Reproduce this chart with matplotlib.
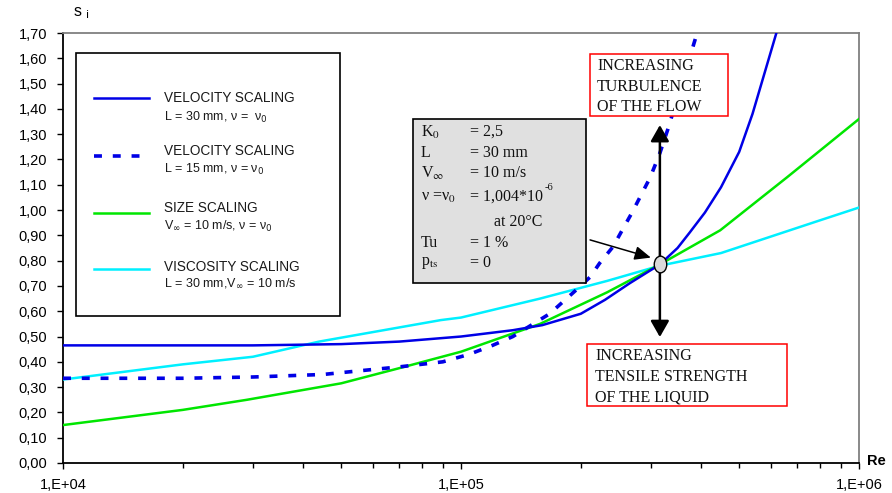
import matplotlib
matplotlib.use("Agg")
import matplotlib.pyplot as plt
from matplotlib.patches import Rectangle
from matplotlib.lines import Line2D
from matplotlib.path import Path
from matplotlib.transforms import Affine2D
from matplotlib.ticker import LogLocator, NullFormatter

# Reynolds number / s_i values for each scaling series
re_vel30 = [1e4, 2e4, 3e4, 5e4, 7e4, 1e5, 1.35e5, 1.6e5, 2e5, 2.3e5, 2.65e5,
            3.16e5, 3.5e5, 3.75e5, 4.1e5, 4.5e5, 5e5, 5.4e5, 6.2e5]
s_vel30 = [0.465, 0.465, 0.465, 0.47, 0.48, 0.50, 0.525, 0.545, 0.59, 0.645, 0.71,
           0.785, 0.85, 0.91, 0.99, 1.09, 1.23, 1.38, 1.70]

re_vel15 = [1e4, 2e4, 3e4, 4.5e4, 5.6e4, 7e4, 9e4, 1.05e5, 1.2e5, 1.35e5, 1.67e5,
            1.95e5, 2.11e5, 2.23e5, 2.41e5, 2.54e5, 2.69e5, 2.99e5, 3.16e5, 3.31e5, 3.92e5]
s_vel15 = [0.335, 0.335, 0.34, 0.35, 0.365, 0.38, 0.40, 0.43, 0.465, 0.50, 0.59,
           0.685, 0.735, 0.79, 0.855, 0.92, 0.99, 1.13, 1.225, 1.32, 1.70]

re_size = [1e4, 2e4, 2.9e4, 5e4, 7e4, 1e5, 1.58e5, 2.33e5, 3.16e5, 4.48e5, 6.6e5, 1e6]
s_size = [0.15, 0.21, 0.25, 0.315, 0.375, 0.44, 0.55, 0.675, 0.785, 0.92, 1.13, 1.36]

re_visc = [1e4, 2e4, 3e4, 4.4e4, 8.9e4, 1e5, 1.58e5, 2.33e5, 3.16e5, 4.5e5, 8e5, 1e6]
s_visc = [0.33, 0.39, 0.42, 0.48, 0.565, 0.575, 0.65, 0.72, 0.78, 0.83, 0.96, 1.01]

# common point of all curves and the reach of the two trend arrows
cross_re, cross_s = 3.16e5, 0.785
arrow_up_s, arrow_down_s = 1.336, 0.498
pointer_from = (2.11e5, 0.882)
pointer_to = (3.0e5, 0.812)

x_ticks = [1e4, 1e5, 1e6]
x_tick_labels = ["1,E+04", "1,E+05", "1,E+06"]
y_ticks = [0.0, 0.1, 0.2, 0.3, 0.4, 0.5, 0.6, 0.7, 0.8, 0.9,
           1.0, 1.1, 1.2, 1.3, 1.4, 1.5, 1.6, 1.7]
y_tick_labels = ["0,00", "0,10", "0,20", "0,30", "0,40", "0,50", "0,60", "0,70", "0,80",
                 "0,90", "1,00", "1,10", "1,20", "1,30", "1,40", "1,50", "1,60", "1,70"]

BLUE = "#0000e6"
GREEN = "#00e600"
CYAN = "#00f0ff"
SANS = ["Liberation Sans", "DejaVu Sans"]
SERIF = ["Liberation Serif", "DejaVu Serif"]

W, H = 892, 493
fig = plt.figure(figsize=(W / 100, H / 100), dpi=100)
ax = fig.add_axes([63 / W, 1 - 463 / H, (859 - 63) / W, (463 - 33) / H])


def fp(x, y):
    # pixel position measured from the top-left corner -> figure fraction
    return x / W, 1 - y / H


styles = {
    "v30": dict(color=BLUE, lw=1.8, ls="-"),
    "v15": dict(color=BLUE, lw=2.6, ls=(0, (2.2, 3.0))),
    "size": dict(color=GREEN, lw=1.8, ls="-"),
    "visc": dict(color=CYAN, lw=1.8, ls="-"),
}

ax.plot(re_visc, s_visc, **styles["visc"], zorder=3)
ax.plot(re_size, s_size, **styles["size"], zorder=4)
ax.plot(re_vel15, s_vel15, **styles["v15"], zorder=5)
ax.plot(re_vel30, s_vel30, **styles["v30"], zorder=5)

ax.set_xscale("log")
ax.set_xlim(1e4, 1e6)
ax.set_ylim(0, 1.7)
ax.set_xticks(x_ticks)
ax.set_xticklabels(x_tick_labels, family=SANS, fontsize=10.5)
ax.xaxis.set_minor_locator(LogLocator(base=10, subs=range(2, 10)))
ax.xaxis.set_minor_formatter(NullFormatter())
ax.set_yticks(y_ticks)
ax.set_yticklabels(y_tick_labels, family=SANS, fontsize=10.5)
ax.tick_params(axis="both", which="both", direction="out", color="black", width=1.0)
ax.tick_params(axis="y", length=4.5, pad=7)
ax.tick_params(axis="x", which="major", length=4, pad=7)
ax.tick_params(axis="x", which="minor", length=3.5)

for side in ("left", "bottom"):
    ax.spines[side].set_color("black")
    ax.spines[side].set_linewidth(1.3)
for side in ("top", "right"):
    ax.spines[side].set_color("#808080")
    ax.spines[side].set_linewidth(1.3)

fig.text(*fp(867, 461), "Re", family=SANS, fontsize=10.5, fontweight="bold",
         ha="left", va="center")
fig.text(*fp(73, 13), r"s $_{\rm i}$", family=SANS, fontsize=11.5, ha="left",
         va="center", math_fontfamily="dejavusans")

# trend arrows through the common point
for end_s in (arrow_up_s, arrow_down_s):
    ax.annotate("", xy=(cross_re, end_s), xytext=(cross_re, cross_s),
                arrowprops=dict(arrowstyle="-|>,head_length=0.7,head_width=0.4",
                                color="black", lw=1.8, mutation_scale=14,
                                shrinkA=0, shrinkB=0),
                zorder=7)
ax.annotate("", xy=pointer_to, xytext=pointer_from,
            arrowprops=dict(arrowstyle="-|>,head_length=0.7,head_width=0.3",
                            color="black", lw=1.1, mutation_scale=14, shrinkA=0, shrinkB=0),
            zorder=7)
oval = Path.unit_circle().transformed(Affine2D().scale(0.75, 1.0))
ax.plot([cross_re], [cross_s], marker=oval, markersize=12, markerfacecolor="#d9d9d9",
        markeredgecolor="black", markeredgewidth=1.0, zorder=8)

# legend panel
x0, y0, x1, y1 = 76, 53, 340, 316
fig.patches.append(Rectangle(fp(x0, y1), (x1 - x0) / W, (y1 - y0) / H,
                             transform=fig.transFigure, facecolor="white",
                             edgecolor="black", lw=1.2, zorder=10))
legend_rows = [
    ("v30", 98, "VELOCITY SCALING", 98, r"L = 30 mm, ν =  ν$_0$", 117),
    ("v15", 156, "VELOCITY SCALING", 151, r"L = 15 mm, ν = ν$_0$", 169),
    ("size", 213, "SIZE SCALING", 208, r"V$_\infty$ = 10 m/s, ν = ν$_0$", 226),
    ("visc", 269, "VISCOSITY SCALING", 267, r"L = 30 mm,V$_\infty$ = 10 m/s", 283),
]
for key, ly, title, ty, sub, sy in legend_rows:
    (lx0, lyf), (lx1, _) = fp(94, ly), fp(149, ly)
    fig.lines.append(Line2D([lx0, lx1], [lyf, lyf], transform=fig.transFigure,
                            zorder=11, **styles[key]))
    fig.text(*fp(164, ty), title, family=SANS, fontsize=9.8, color="#1a1a1a",
             ha="left", va="center", zorder=11)
    fig.text(*fp(164, sy), sub, family=SANS, fontsize=9, color="#1a1a1a",
             ha="left", va="center", zorder=11, math_fontfamily="dejavusans")

# parameter panel
px0, py0, px1, py1 = 413, 119, 586, 283
fig.patches.append(Rectangle(fp(px0, py1), (px1 - px0) / W, (py1 - py0) / H,
                             transform=fig.transFigure, facecolor="#e0e0e0",
                             edgecolor="black", lw=1.2, zorder=10))
param_rows = [
    (r"K$_{\rm 0}$", "= 2,5", 132),
    ("L", "= 30 mm", 153),
    (r"V$_\infty$", "= 10 m/s", 173),
    (r"ν =ν$_{\rm 0}$", "= 1,004*10", 197),
    ("", "at 20°C", 222),
    ("Tu", "= 1 %", 243),
    (r"p$_{\rm ts}$", "= 0", 263),
]
for name, value, ry in param_rows:
    if name:
        fig.text(*fp(421, ry), name, family=SERIF, fontsize=11.5, color="#111111",
                 ha="left", va="center", zorder=11, math_fontfamily="stix")
    vx = 494 if value.startswith("at") else 470
    fig.text(*fp(vx, ry), value, family=SERIF, fontsize=11.5, color="#111111",
             ha="left", va="center", zorder=11, math_fontfamily="stix")
# exponent of the viscosity value
fig.text(*fp(545, 188), "-6", family=SERIF, fontsize=7.5, color="#111111",
         ha="left", va="center", zorder=11)

# red note boxes
notes = [
    ((590, 54, 728, 116), 597, ["INCREASING", "TURBULENCE", "OF THE FLOW"], [66, 87, 107]),
    ((587, 344, 787, 406), 595, ["INCREASING", "TENSILE STRENGTH", "OF THE LIQUID"],
     [356, 377, 397]),
]
for (bx0, by0, bx1, by1), tx, lines, ys in notes:
    fig.patches.append(Rectangle(fp(bx0, by1), (bx1 - bx0) / W, (by1 - by0) / H,
                                 transform=fig.transFigure, facecolor="white",
                                 edgecolor="#ff0000", lw=1.1, zorder=10))
    for txt, ty in zip(lines, ys):
        fig.text(*fp(tx, ty), txt, family=SERIF, fontsize=11.5, color="#111111",
                 ha="left", va="center", zorder=11)

fig.savefig("out.png", dpi=100)
